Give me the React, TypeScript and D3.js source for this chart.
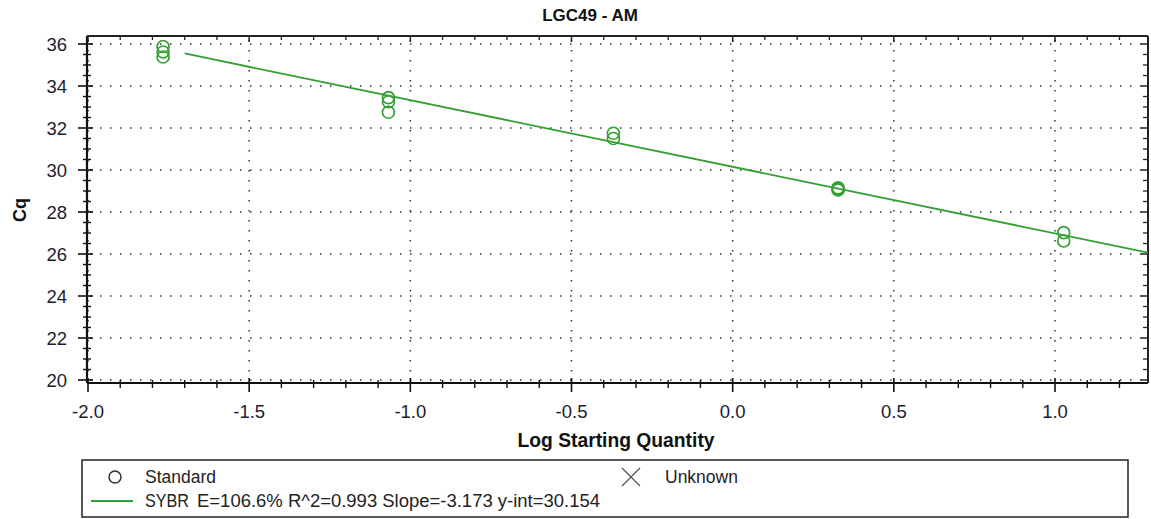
import React from "react";
import * as d3 from "d3";

const title = "LGC49 - AM";
const xTitle = "Log Starting Quantity";
const yTitle = "Cq";
const xTickValues = [-2.0, -1.5, -1.0, -0.5, 0.0, 0.5, 1.0];
const yTickValues = [20, 22, 24, 26, 28, 30, 32, 34, 36];
const stdLogQty = [-1.767, -1.767, -1.767, -1.068, -1.068, -1.068, -0.370, -0.370, 0.327, 0.327, 0.327, 1.027, 1.027];
const stdCq = [35.88, 35.62, 35.38, 33.45, 33.25, 32.75, 31.75, 31.5, 29.15, 29.1, 29.05, 27.02, 26.62];
const fitSlope = -3.173;
const fitIntercept = 30.154;
const fitStart = -1.7;
const legendStandard = "Standard";
const legendUnknown = "Unknown";
const legendSeries = "SYBR";
const legendStats = "E=106.6% R^2=0.993 Slope=-3.173 y-int=30.154";

const GREEN = "#34a034";
const FONT = "Arial, 'Liberation Sans', sans-serif";

export default function App() {
  const W = 1151, H = 519;
  const left = 87, right = 1148, top = 36, bottom = 383;
  const x = d3.scaleLinear().domain([-2, 1]).range([88, 1055]);
  const y = d3.scaleLinear().domain([20, 36]).range([380, 44]);
  const xMax = x.invert(right);
  const yMaxVal = y.invert(top);

  const xMinor = d3.range(-20, Math.floor(xMax * 10) + 1).map((v) => v / 10).filter((v) => Math.abs(v * 2 - Math.round(v * 2)) > 1e-6);
  const yMinor = d3.range(40, Math.floor(yMaxVal * 2) + 1).map((v) => v / 2).filter((v) => v % 2 !== 0);

  const line = d3.line<number>().x((d) => x(d)).y((d) => y(fitIntercept + fitSlope * d));
  const fitPath = line([fitStart, xMax]) || "";

  const fmt = (v: number) => d3.format(".1f")(v).replace("\u2212", "-");
  const dot = { stroke: "#333", strokeWidth: 1.5, strokeDasharray: "1.5 8.5", fill: "none" } as const;

  return (
    <svg width={W} height={H} style={{ position: "absolute", left: 0, top: 0, background: "#fff" }} fontFamily={FONT}>
      <rect x={0} y={0} width={W} height={H} fill="#fff" />
      <text x={590} y={21} textAnchor="middle" fontSize={17} fontWeight="bold" fill="#111">{title}</text>

      {/* gridlines */}
      {yTickValues.map((v) => (
        <line key={"gy" + v} x1={left + 3} x2={right - 2} y1={y(v)} y2={y(v)} {...dot} />
      ))}
      {xTickValues.map((v) => (
        <line key={"gx" + v} x1={x(v)} x2={x(v)} y1={top + 4} y2={bottom - 2} {...dot} />
      ))}

      {/* frame */}
      <line x1={left} x2={right} y1={top} y2={top} stroke="#222" strokeWidth={2} />
      <line x1={right} x2={right} y1={top} y2={bottom} stroke="#222" strokeWidth={2} />
      <line x1={left} x2={left} y1={top} y2={bottom} stroke="#111" strokeWidth={2.2} />
      <line x1={left} x2={right} y1={bottom} y2={bottom} stroke="#111" strokeWidth={2.2} />

      {/* y axis ticks */}
      {yTickValues.map((v) => (
        <g key={"ty" + v}>
          <line x1={78} x2={93} y1={y(v)} y2={y(v)} stroke="#111" strokeWidth={1.6} />
          <line x1={right - 7} x2={right} y1={y(v)} y2={y(v)} stroke="#222" strokeWidth={1.5} />
          <text x={67} y={y(v)} dy="0.36em" textAnchor="end" fontSize={18.5} fill="#1c1c30">{v}</text>
        </g>
      ))}
      {yMinor.map((v) => (
        <g key={"my" + v}>
          <line x1={83} x2={91} y1={y(v)} y2={y(v)} stroke="#111" strokeWidth={1.4} />
          <line x1={right - 5} x2={right} y1={y(v)} y2={y(v)} stroke="#222" strokeWidth={1.3} />
        </g>
      ))}

      {/* x axis ticks */}
      {xTickValues.map((v) => (
        <g key={"tx" + v}>
          <line x1={x(v)} x2={x(v)} y1={bottom - 5} y2={bottom + 9} stroke="#111" strokeWidth={1.6} />
          <line x1={x(v)} x2={x(v)} y1={top} y2={top + 6} stroke="#222" strokeWidth={1.5} />
          <text x={x(v)} y={418} textAnchor="middle" fontSize={18.5} fill="#1c1c30">{fmt(v)}</text>
        </g>
      ))}
      {xMinor.map((v) => (
        <g key={"mx" + v}>
          <line x1={x(v)} x2={x(v)} y1={bottom - 3} y2={bottom + 5} stroke="#111" strokeWidth={1.4} />
          <line x1={x(v)} x2={x(v)} y1={top} y2={top + 4} stroke="#222" strokeWidth={1.3} />
        </g>
      ))}

      {/* axis titles */}
      <text x={616} y={447} textAnchor="middle" fontSize={19.3} fontWeight="bold" fill="#111">{xTitle}</text>
      <text transform="translate(26,210) rotate(-90)" textAnchor="middle" fontSize={18} fontWeight="bold" fill="#111">{yTitle}</text>

      {/* fit line */}
      <path d={fitPath} stroke={GREEN} strokeWidth={1.8} fill="none" />

      {/* standards */}
      {stdLogQty.map((q, i) => (
        <circle key={"p" + i} cx={x(q)} cy={y(stdCq[i])} r={6} fill="none" stroke={GREEN} strokeWidth={1.7} />
      ))}

      {/* legend */}
      <rect x={82} y={460} width={1046} height={57} fill="#fff" stroke="#222" strokeWidth={1.5} />
      <circle cx={115} cy={477} r={6} fill="none" stroke="#333" strokeWidth={1.5} />
      <text x={145} y={483} fontSize={17.5} fill="#222">{legendStandard}</text>
      <path d="M622,468 L640,486 M640,468 L622,486" stroke="#555" strokeWidth={1.3} fill="none" />
      <text x={665} y={483} fontSize={17.5} fill="#222">{legendUnknown}</text>
      <line x1={91} x2={133} y1={501} y2={501} stroke={GREEN} strokeWidth={1.8} />
      <text x={145} y={507} fontSize={17.5} fill="#222" textLength={44} lengthAdjust="spacingAndGlyphs">{legendSeries}</text>
      <text x={197} y={507} fontSize={18.3} fill="#222" textLength={403} lengthAdjust="spacingAndGlyphs">{legendStats}</text>
    </svg>
  );
}
